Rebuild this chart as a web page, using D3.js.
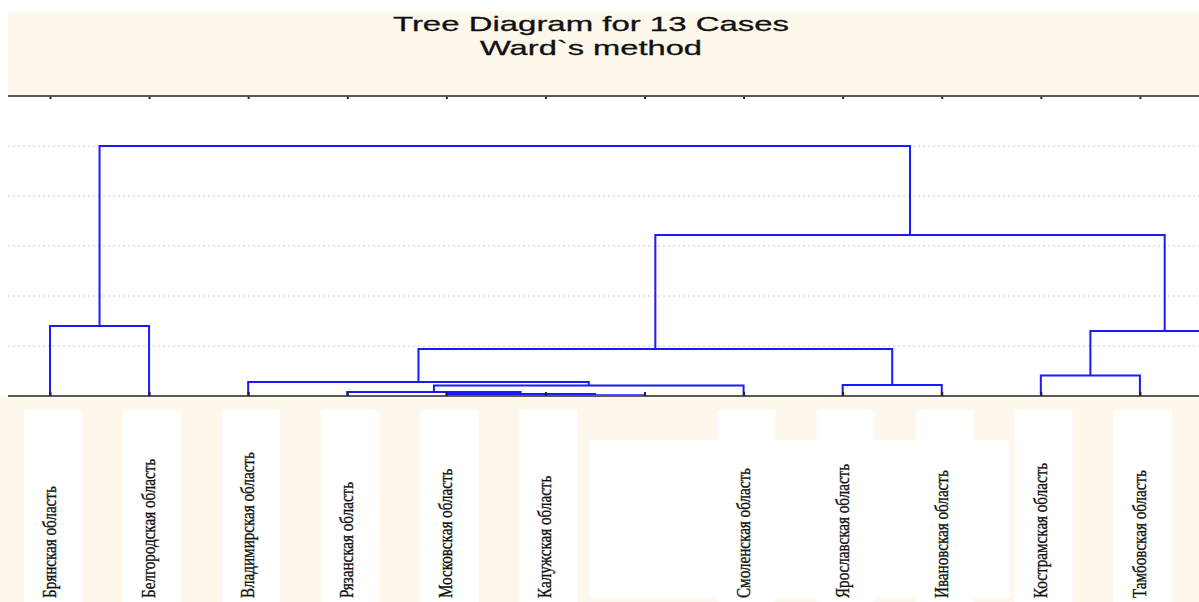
<!DOCTYPE html>
<html>
<head>
<meta charset="utf-8">
<script src="https://cdn.jsdelivr.net/npm/d3@7"></script>
<style>
    body { margin: 0; background: #fff; }
    svg { display: block; }
</style>
</head>
<body>
<div id="chart"></div>
<script>
// Tree diagram (Ward's method) for 13 cases

const titleLines = ['Tree Diagram for 13 Cases', 'Ward`s method'];

// leaf order as in the dendrogram, two cases have no visible label
const leaves = [
    'Брянская область', 'Белгородская область', 'Владимирская область',
    'Рязанская область', 'Московская область', 'Калужская область', '',
    'Смоленская область', 'Ярославская область', 'Ивановская область',
    'Кострамская область', 'Тамбовская область', ''
];

// merges: [left id, right id, linkage distance]; ids >= 13 are earlier merges
const merges = [
    [5, 6, 0.015],
    [4, 13, 0.04],
    [3, 14, 0.08],
    [15, 7, 0.21],
    [8, 9, 0.22],
    [2, 16, 0.28],
    [10, 11, 0.41],
    [18, 17, 0.94],
    [19, 12, 1.30],
    [0, 1, 1.40],
    [20, 21, 3.22],
    [22, 23, 5.00]
];

const gridTicks = [1, 2, 3, 4, 5];

const Chart = {
    width: 1199,
    height: 602,
    plot: { left: 8, top: 96, bottom: 396 },
    colors: { panel: '#fef8ec', line: '#1a1aff', axis: '#5a5a5a', grid: '#c8c8c8' },

    render() {
        const container = document.getElementById('chart');
        const svg = d3.select(container).append('svg')
            .attr('width', this.width)
            .attr('height', this.height);

        const x = d3.scalePoint()
            .domain(d3.range(leaves.length))
            .range([50, 1239]);

        const y = d3.scaleLinear()
            .domain([0, 6])
            .range([this.plot.bottom, this.plot.top]);

        const named = leaves.map((d, i) => ({ name: d, i })).filter(d => d.name);

        // header panel
        svg.append('rect')
            .attr('x', this.plot.left).attr('y', 12)
            .attr('width', this.width - this.plot.left).attr('height', this.plot.top - 12)
            .attr('fill', this.colors.panel);

        // label panel, mostly covered by white patches behind the names
        svg.append('rect')
            .attr('x', 0).attr('y', this.plot.bottom)
            .attr('width', this.width).attr('height', this.height - this.plot.bottom)
            .attr('fill', this.colors.panel);

        svg.selectAll('.patch')
            .data(named)
            .enter().append('rect')
            .attr('class', 'patch')
            .attr('x', d => x(d.i) - 26)
            .attr('y', 410)
            .attr('width', 58)
            .attr('height', this.height - 410)
            .attr('fill', '#fff');

        svg.append('rect')
            .attr('x', 590).attr('y', 440)
            .attr('width', 420).attr('height', 158)
            .attr('fill', '#fff');

        // titles
        svg.selectAll('.title')
            .data(titleLines)
            .enter().append('text')
            .attr('class', 'title')
            .attr('x', 591)
            .attr('y', (d, i) => 31 + i * 24)
            .attr('text-anchor', 'middle')
            .attr('font-family', 'Liberation Sans, Arial, sans-serif')
            .attr('font-size', 21)
            .attr('fill', '#111')
            .attr('stroke', '#111')
            .attr('stroke-width', 0.3)
            .attr('textLength', (d, i) => i === 0 ? 396 : 222)
            .attr('lengthAdjust', 'spacingAndGlyphs')
            .text(d => d);

        // dotted grid
        svg.selectAll('.grid')
            .data(gridTicks)
            .enter().append('line')
            .attr('class', 'grid')
            .attr('x1', this.plot.left).attr('x2', this.width)
            .attr('y1', d => y(d)).attr('y2', d => y(d))
            .attr('stroke', this.colors.grid)
            .attr('stroke-dasharray', '2,3');

        // top axis with ticks
        svg.append('g')
            .attr('transform', `translate(0,${this.plot.top})`)
            .call(d3.axisBottom(x).tickSize(3).tickFormat(''))
            .call(g => g.select('.domain').remove())
            .call(g => g.selectAll('line').attr('stroke', '#222').attr('stroke-width', 2));

        svg.append('line')
            .attr('x1', this.plot.left).attr('x2', this.width)
            .attr('y1', this.plot.top).attr('y2', this.plot.top)
            .attr('stroke', this.colors.axis).attr('stroke-width', 2);

        // node positions
        const nodes = leaves.map((d, i) => ({ x: x(i), h: 0 }));
        merges.forEach(([a, b, h]) => {
            nodes.push({ x: (nodes[a].x + nodes[b].x) / 2, h, a, b });
        });

        svg.selectAll('.link')
            .data(nodes.slice(leaves.length))
            .enter().append('path')
            .attr('class', 'link')
            .attr('d', d => {
                const l = nodes[d.a], r = nodes[d.b];
                return `M${l.x},${y(l.h)}V${y(d.h)}H${r.x}V${y(r.h)}`;
            })
            .attr('fill', 'none')
            .attr('stroke', this.colors.line)
            .attr('stroke-width', 2);

        // bottom baseline with leaf ticks
        svg.append('line')
            .attr('x1', this.plot.left).attr('x2', this.width)
            .attr('y1', this.plot.bottom).attr('y2', this.plot.bottom)
            .attr('stroke', this.colors.axis).attr('stroke-width', 2);

        svg.append('g')
            .attr('transform', `translate(0,${this.plot.bottom})`)
            .call(d3.axisTop(x).tickSize(4).tickFormat(''))
            .call(g => g.select('.domain').remove())
            .call(g => g.selectAll('line').attr('stroke', '#222').attr('stroke-width', 2));

        // case names, rotated and slightly condensed
        svg.selectAll('.case')
            .data(named)
            .enter().append('text')
            .attr('class', 'case')
            .attr('transform', d => `translate(${x(d.i) + 6},598) rotate(-90) scale(0.84,1)`)
            .attr('font-family', 'Liberation Serif, Times New Roman, serif')
            .attr('font-size', 18)
            .attr('fill', '#111')
            .attr('stroke', '#111')
            .attr('stroke-width', 0.35)
            .text(d => d.name);
    }
};

Chart.render();
</script>
</body>
</html>
